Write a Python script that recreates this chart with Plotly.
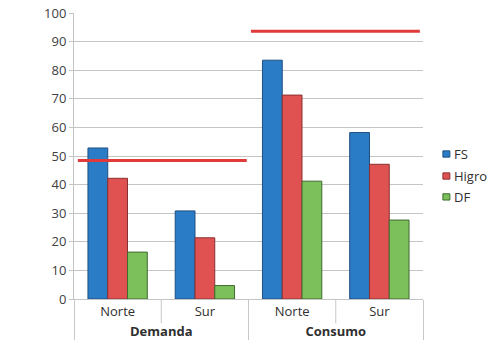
import plotly.graph_objects as go

groups = ["Demanda", "Demanda", "Consumo", "Consumo"]
zones = ["Norte", "Sur", "Norte", "Sur"]
series_names = ["FS", "Higro", "DF"]
fs = [52.8, 30.8, 83.5, 58.2]
higro = [42.2, 21.4, 71.3, 47.1]
df = [16.4, 4.7, 41.2, 27.6]
limit_demanda = 48.4
limit_consumo = 93.6

colors = {"FS": "#2a7cc6", "Higro": "#e05252", "DF": "#7cc05c"}
edges = {"FS": "#1f4f80", "Higro": "#8a3030", "DF": "#3f6a2f"}
FONT = "Open Sans"

group_labels = [f"<b>{g}</b>" for g in groups]

fig = go.Figure()
for name, vals in zip(series_names, [fs, higro, df]):
    fig.add_trace(go.Bar(
        x=[group_labels, zones], y=vals, name=name, showlegend=False,
        marker=dict(color=colors[name], line=dict(color=edges[name], width=1)),
    ))

# limit lines
fig.add_shape(type="line", xref="paper", yref="y", x0=0.011, x1=0.495,
              y0=limit_demanda, y1=limit_demanda, line=dict(color="#e03a3a", width=3))
fig.add_shape(type="line", xref="paper", yref="y", x0=0.507, x1=0.991,
              y0=limit_consumo, y1=limit_consumo, line=dict(color="#e03a3a", width=3))

# inner separators between Norte / Sur labels
for xp in [0.25, 0.75]:
    fig.add_shape(type="line", xref="paper", yref="paper", x0=xp, x1=xp,
                  y0=0, y1=-0.085, line=dict(color="#c8c8c8", width=1))

# legend (drawn manually to match spacing)
legend_y = [0.507, 0.430, 0.357]
for name, ly in zip(series_names, legend_y):
    fig.add_shape(type="rect", xref="paper", yref="paper",
                  x0=1.057, x1=1.077, y0=ly - 0.011, y1=ly + 0.011,
                  fillcolor=colors[name], line=dict(color=edges[name], width=1))
    fig.add_annotation(x=1.082, y=ly, xref="paper", yref="paper", text=name,
                       showarrow=False, xanchor="left", yanchor="middle",
                       font=dict(size=13, color="#303030", family=FONT))

fig.update_layout(
    width=489, height=349,
    margin=dict(l=74, r=66, t=13, b=50, autoexpand=False),
    paper_bgcolor="white", plot_bgcolor="white",
    barmode="group", bargap=0.32, bargroupgap=0,
    font=dict(family=FONT, size=13, color="#404040"),
    showlegend=False,
)
fig.update_yaxes(range=[0, 100], dtick=10, showgrid=True, gridcolor="#c4c4c4",
                 gridwidth=1, showline=True, linecolor="#c4c4c4",
                 ticks="outside", ticklen=4, tickcolor="#c4c4c4",
                 tickfont=dict(size=13, color="#404040"), zeroline=False)
fig.update_xaxes(showline=True, linecolor="#c4c4c4", showdividers=True,
                 dividercolor="#c8c8c8", dividerwidth=1,
                 tickfont=dict(size=13, color="#303030"), ticks="")

fig.write_html("out.html")
